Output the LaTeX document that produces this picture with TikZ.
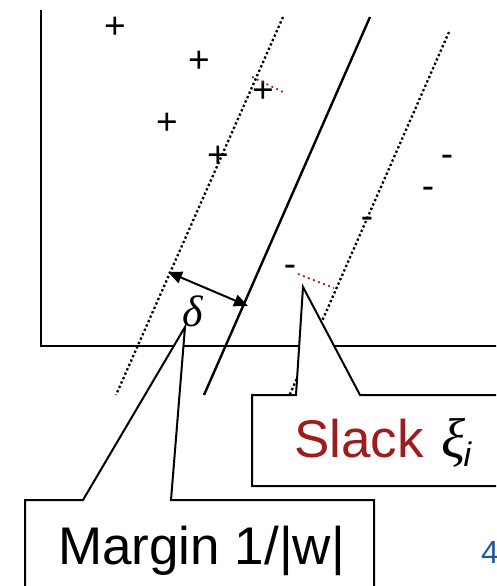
\documentclass[tikz,border=0pt]{standalone}
\usepackage{fontspec}
\setmainfont{Liberation Sans}
\newfontfamily\grkfont{Liberation Serif}
\usetikzlibrary{arrows.meta}
\definecolor{slackred}{RGB}{158,28,28}
\definecolor{pageblue}{RGB}{31,90,150}
\begin{document}
\begin{tikzpicture}[x=1pt,y=-1pt,
  axis/.style={line width=2pt},
  hyper/.style={line width=2.4pt},
  margline/.style={line width=2.3pt,dash pattern=on 2.3pt off 2.5pt},
  slackline/.style={line width=1.8pt,slackred,dash pattern=on 1.8pt off 3.6pt},
  callout/.style={line width=2pt,fill=white},
  pt/.style={inner sep=0pt,font=\fontsize{37}{40}\selectfont},
  big/.style={inner sep=0pt,font=\fontsize{53}{60}\selectfont}]
\useasboundingbox (0,0) rectangle (496,586);
\clip (0,0) rectangle (496,586);
% axes
\coordinate (ytop) at (41,10);
\coordinate (orig) at (41,346);
\coordinate (xend) at (500,346);
\draw[axis] (ytop) -- (orig) -- (xend);
% lines
\coordinate (l1a) at (283,17); \coordinate (l1b) at (116,395);
\coordinate (h1a) at (370,17); \coordinate (h1b) at (204,395);
\coordinate (r1a) at (449,32); \coordinate (r1b) at (283,410);
\draw[margline] (l1a) -- (l1b);
\draw[hyper] (h1a) -- (h1b);
\draw[margline] (r1a) -- (r1b);
% points
\node[pt] (p1) at (115,28) {+};
\node[pt] (p2) at (199,62) {+};
\node[pt] (p3) at (167,124) {+};
\node[pt] (p4) at (218,157) {+};
\node[pt] (p5) at (263,92) {+};
\node[pt] (n1) at (447,161) {-};
\node[pt] (n2) at (428,193) {-};
\node[pt] (n3) at (367,223) {-};
\node[pt] (n4) at (290,271) {-};
% slack segments
\coordinate (s1a) at (252,77); \coordinate (s1b) at (283,92);
\coordinate (s2a) at (298,274); \coordinate (s2b) at (334,288);
\draw[slackline] (s1a) -- (s1b);
\draw[slackline] (s2a) -- (s2b);
% margin arrow
\coordinate (ma) at (168,272); \coordinate (mb) at (248,306);
\draw[line width=2pt,{Triangle[length=14pt,width=12pt]}-{Triangle[length=14pt,width=12pt]}] (ma) -- (mb);
\node[inner sep=0pt,font=\fontsize{44}{48}\selectfont\grkfont\itshape] (delta) at (193,311) {δ};
% slack callout
\coordinate (sp) at (303,287);
\draw[callout] (252,486) -- (252,395) -- (296,395) -- (sp) -- (360,395) -- (510,395) -- (510,486) -- cycle;
\node[big,anchor=base west,text=slackred] (slack) at (294,457) {Slack};
\node[inner sep=0pt,anchor=base west,font=\fontsize{56}{60}\selectfont\grkfont\itshape] (xi) at (441,457) {ξ};
\node[inner sep=0pt,anchor=base west,font=\fontsize{34}{38}\selectfont\itshape] (sub) at ([xshift=-2pt,yshift=-9pt]xi.base east) {i};
% margin callout
\coordinate (dp) at (185,327);
\draw[callout] (25,600) -- (25,500) -- (83,500) -- (dp) -- (171,500) -- (374,500) -- (374,600);
\node[big,anchor=base west] (margin) at (58,564) {Margin 1/|w|};
% page number
\node[inner sep=0pt,anchor=base west,text=pageblue,font=\fontsize{32}{36}\selectfont] (page) at (481,563) {4};
\end{tikzpicture}
\end{document}
